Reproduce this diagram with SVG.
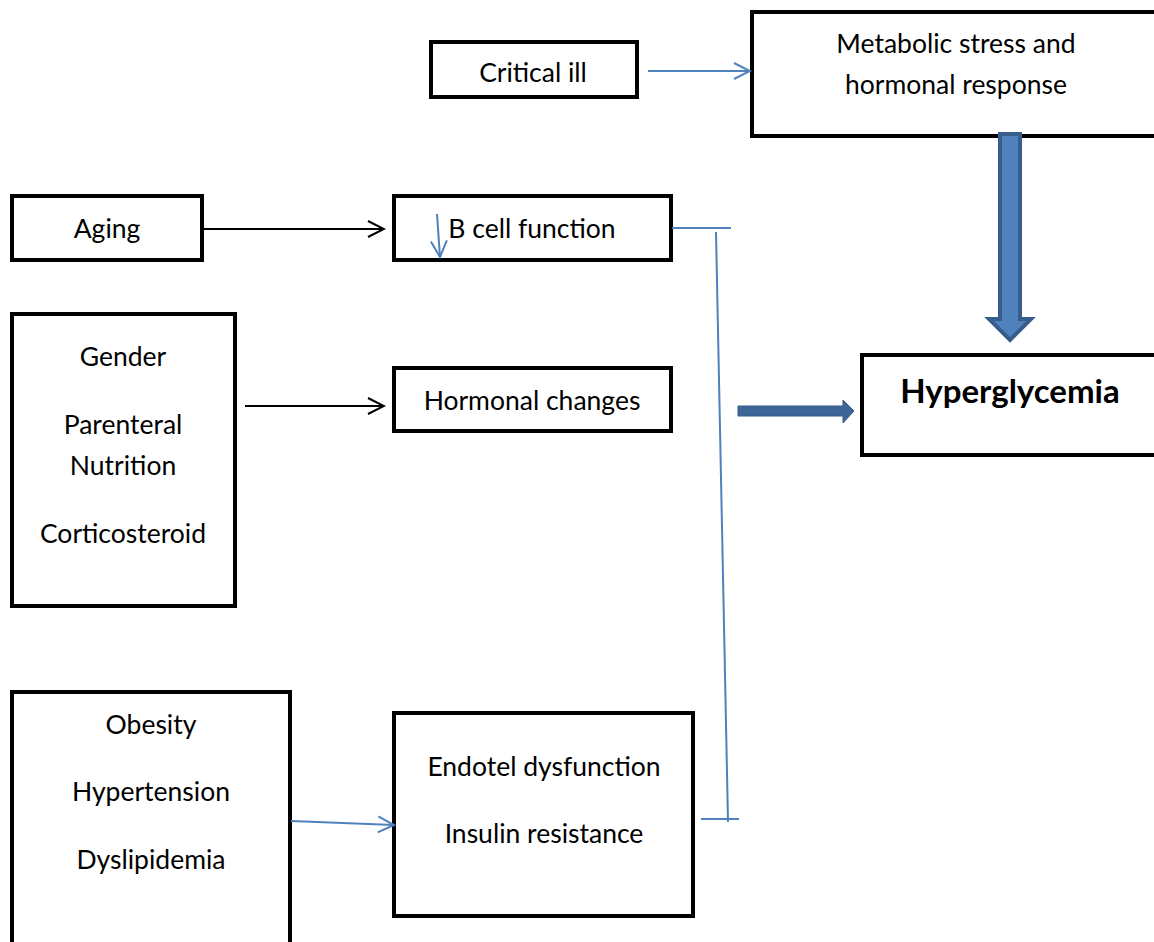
<svg xmlns="http://www.w3.org/2000/svg" width="1154" height="942" viewBox="0 0 1154 942">
<style>
.box{fill:#fff;stroke:#000;stroke-width:4}
.t{font-family:Lato,"Liberation Sans",sans-serif;font-size:26.5px;fill:#000;text-anchor:middle}
.b{font-weight:bold;font-size:33px}
.blue{stroke:#4f81bd;stroke-width:2;fill:none}
.blk{stroke:#000;stroke-width:2;fill:none}
.fat{fill:#3d6597;stroke:#385d8a;stroke-width:1}
.fat2{fill:#4f81bd;stroke:#385d8a;stroke-width:4}
</style>
<defs>
<marker id="ab" markerWidth="20" markerHeight="20" refX="18" refY="10" orient="auto" markerUnits="userSpaceOnUse">
<path d="M2,2 L18,10 L2,18" fill="none" stroke="#4f81bd" stroke-width="2"/>
</marker>
<marker id="ak" markerWidth="20" markerHeight="20" refX="18" refY="10" orient="auto" markerUnits="userSpaceOnUse">
<path d="M2,2 L18,10 L2,18" fill="none" stroke="#000" stroke-width="2"/>
</marker>
</defs>
<rect width="1154" height="942" fill="#fff"/>
<g id="critical"><rect class="box" x="431" y="42" width="206" height="55"/><text class="t" x="533" y="82">Critical ill</text></g>
<g id="metabolic"><rect class="box" x="752" y="12" width="410" height="124"/><text class="t" x="956" y="53">Metabolic stress and</text><text class="t" x="956" y="94">hormonal response</text></g>
<g id="aging"><rect class="box" x="12" y="196" width="190" height="64"/><text class="t" x="107" y="238">Aging</text></g>
<g id="bcell"><rect class="box" x="394" y="196" width="277" height="64"/><text class="t" x="532" y="238">B cell function</text></g>
<g id="gender"><rect class="box" x="12" y="314" width="223" height="292"/><text class="t" x="123" y="366">Gender</text><text class="t" x="123" y="434">Parenteral</text><text class="t" x="123" y="475">Nutrition</text><text class="t" x="123" y="543">Corticosteroid</text></g>
<g id="hormonal"><rect class="box" x="394" y="368" width="277" height="63"/><text class="t" x="532" y="410">Hormonal changes</text></g>
<g id="hyper"><rect class="box" x="862" y="355" width="300" height="100"/><text class="t b" x="1010" y="403">Hyperglycemia</text></g>
<g id="obesity"><rect class="box" x="12" y="692" width="278" height="260"/><text class="t" x="151" y="734">Obesity</text><text class="t" x="151" y="801">Hypertension</text><text class="t" x="151" y="869">Dyslipidemia</text></g>
<g id="endotel"><rect class="box" x="394" y="713" width="299" height="203"/><text class="t" x="544" y="776">Endotel dysfunction</text><text class="t" x="544" y="843">Insulin resistance</text></g>
<g id="connectors">
<line class="blue" x1="648" y1="71" x2="750" y2="71" marker-end="url(#ab)"/>
<line class="blk" x1="202" y1="229" x2="384" y2="229" marker-end="url(#ak)"/>
<line class="blk" x1="245" y1="406" x2="384" y2="406" marker-end="url(#ak)"/>
<line class="blue" x1="291" y1="821" x2="394" y2="825" marker-end="url(#ab)"/>
<line class="blue" x1="437" y1="214" x2="440" y2="257" marker-end="url(#ab)"/>
<line class="blue" x1="672" y1="228" x2="731" y2="228"/>
<line class="blue" x1="716" y1="232" x2="728" y2="822"/>
<line class="blue" x1="701" y1="819" x2="739" y2="819"/>
<polygon class="fat" points="738,406 843,406 843,400 854,411 843,423 843,416 738,416"/>
<polygon class="fat2" points="1000,134 1020,134 1020,319 1031,319 1010,340 989,319 1000,319"/>
</g>
</svg>
